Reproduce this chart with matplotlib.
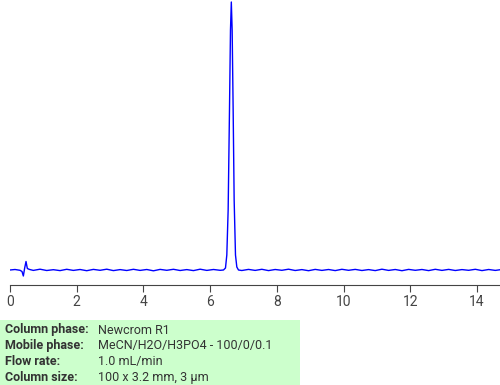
import matplotlib
matplotlib.use('Agg')
import matplotlib.pyplot as plt
import numpy as np

# retention time (min) and detector signal
base_t = [0.0, 0.15, 0.3, 0.36, 0.40, 0.44, 0.48, 0.52, 0.58, 0.7, 0.9, 1.1, 1.3, 1.5,
          1.7, 1.9, 2.1, 2.3, 2.5, 2.7, 2.9, 3.1, 3.3, 3.5, 3.7, 3.9, 4.1, 4.3,
          4.5, 4.7, 4.9, 5.1, 5.3, 5.5, 5.7, 5.9, 6.1, 6.3]
base_y = [0.0, 0.5, -0.3, -1.5, -6.0, 2.0, 8.5, 1.5, 0.6, -0.4, 0.8, -0.5, 0.3, -0.6,
          0.7, -0.4, 0.5, -0.7, 0.6, -0.3, 0.8, -0.6, 0.4, -0.5, 0.7, -0.4, 0.5, -0.8,
          0.6, -0.3, 0.7, -0.5, 0.4, -0.6, 0.8, -0.4, 0.5, -0.3]

peak_t = [6.40, 6.46, 6.50, 6.54, 6.58, 6.61, 6.635, 6.66, 6.69, 6.72, 6.76, 6.80, 6.85]
peak_y = [0.0, 2.0, 15.0, 60.0, 160.0, 240.0, 268.0, 240.0, 160.0, 70.0, 15.0, 3.0, 0.0]

tail_t = [6.95, 7.15, 7.35, 7.55, 7.75, 7.95, 8.15, 8.35, 8.55, 8.75, 8.95, 9.15, 9.35,
          9.55, 9.75, 9.95, 10.15, 10.35, 10.55, 10.75, 10.95, 11.15, 11.35, 11.55, 11.75,
          11.95, 12.15, 12.35, 12.55, 12.75, 12.95, 13.15, 13.35, 13.55, 13.75, 13.95,
          14.15, 14.35, 14.55, 14.7]
tail_y = [-0.5, 0.6, -0.4, 0.7, -0.6, 0.5, -0.3, 0.8, -0.5, 0.4, -0.7, 0.6, -0.4,
          0.5, -0.6, 0.7, -0.3, 0.6, -0.5, 0.4, -0.6, 0.8, -0.4, 0.5, -0.7,
          0.6, -0.3, 0.5, -0.6, 0.7, -0.4, 0.6, -0.5, 0.4, -0.3, 0.7,
          -0.6, 0.5, -0.4, 0.3]

x_ticks = [0, 2, 4, 6, 8, 10, 12, 14]

info_labels = ['Column phase:', 'Mobile phase:', 'Flow rate:', 'Column size:']
info_values = ['Newcrom R1', 'MeCN/H2O/H3PO4 - 100/0/0.1', '1.0 mL/min', '100 x 3.2 mm, 3 µm']

t = base_t + peak_t + tail_t
y = base_y + peak_y + tail_y

plt.rcParams['font.family'] = ['Roboto', 'DejaVu Sans']

fig = plt.figure(figsize=(5, 3.85), dpi=100)
ax = fig.add_axes([0.02, 1 - 285 / 385, 0.98, 285 / 385])
ax.plot(t, y, color='#0000ff', lw=1.0)
ax.set_xlim(0, 14.69)
ax.set_ylim(-15, 270)
ax.set_xticks(x_ticks)
ax.set_yticks([])
for s in ['top', 'right', 'left']:
    ax.spines[s].set_visible(False)
ax.spines['bottom'].set_color('#444444')
ax.tick_params(axis='x', colors='#444444', length=5, labelsize=10, pad=2)

# info box under the chart
box = plt.Rectangle((0, 0), 300 / 500, 65 / 385, transform=fig.transFigure,
                    facecolor='#ccffcc', edgecolor='none')
fig.patches.append(box)
for i, (lab, val) in enumerate(zip(info_labels, info_values)):
    yy = 1 - (330 + i * 15.7) / 385
    fig.text(5 / 500, yy, lab, fontsize=9, fontweight='bold', color='#333333', va='center')
    fig.text(98 / 500, yy, val, fontsize=9, color='#333333', va='center')

fig.savefig('out.png', dpi=100)
